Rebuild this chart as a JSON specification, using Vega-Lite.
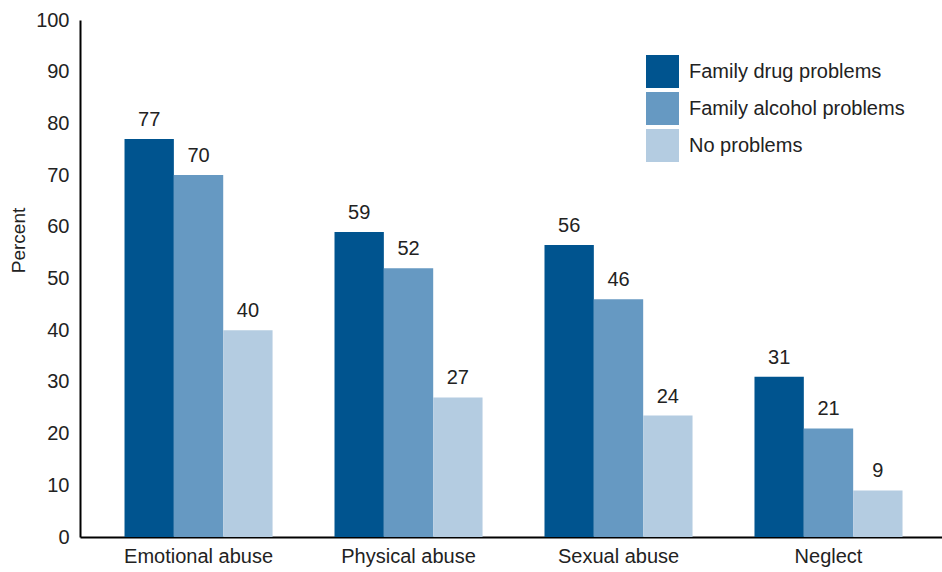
{
  "$schema": "https://vega.github.io/schema/vega-lite/v6.json",
  "width": 862,
  "height": 517,
  "autosize": {"type": "none"},
  "padding": {"left": 80, "top": 20, "right": 0, "bottom": 35},
  "config": {
    "view": {"stroke": null},
    "font": "Liberation Sans"
  },
  "data": {
    "values": [
      {"type": "Emotional abuse", "group": "Family drug problems", "value": 77, "label": "77"},
      {"type": "Emotional abuse", "group": "Family alcohol problems", "value": 70, "label": "70"},
      {"type": "Emotional abuse", "group": "No problems", "value": 40, "label": "40"},
      {"type": "Physical abuse", "group": "Family drug problems", "value": 59, "label": "59"},
      {"type": "Physical abuse", "group": "Family alcohol problems", "value": 52, "label": "52"},
      {"type": "Physical abuse", "group": "No problems", "value": 27, "label": "27"},
      {"type": "Sexual abuse", "group": "Family drug problems", "value": 56.5, "label": "56"},
      {"type": "Sexual abuse", "group": "Family alcohol problems", "value": 46, "label": "46"},
      {"type": "Sexual abuse", "group": "No problems", "value": 23.5, "label": "24"},
      {"type": "Neglect", "group": "Family drug problems", "value": 31, "label": "31"},
      {"type": "Neglect", "group": "Family alcohol problems", "value": 21, "label": "21"},
      {"type": "Neglect", "group": "No problems", "value": 9, "label": "9"}
    ]
  },
  "encoding": {
    "x": {
      "field": "type", "type": "nominal",
      "sort": ["Emotional abuse", "Physical abuse", "Sexual abuse", "Neglect"],
      "scale": {"paddingInner": 0.295, "paddingOuter": 0.2, "align": 0.53},
      "axis": {
        "title": null, "labelAngle": 0, "ticks": false,
        "domainColor": "#000000", "domainWidth": 2,
        "labelFontSize": 20, "labelColor": "#222222", "labelPadding": 9,
        "labelFont": "Liberation Sans"
      }
    },
    "xOffset": {
      "field": "group", "type": "nominal",
      "sort": ["Family drug problems", "Family alcohol problems", "No problems"]
    },
    "y": {
      "field": "value", "type": "quantitative",
      "scale": {"domain": [0, 100]},
      "axis": {
        "title": "Percent", "titleFontSize": 19, "titleFontWeight": "normal",
        "titleColor": "#222222", "titleFont": "Liberation Sans",
        "titleY": 220, "titleX": -56, "titleAngle": -90, "titleAlign": "center", "titleBaseline": "alphabetic",
        "values": [0, 10, 20, 30, 40, 50, 60, 70, 80, 90, 100],
        "ticks": false, "grid": false,
        "domainColor": "#000000", "domainWidth": 2,
        "labelFontSize": 20, "labelColor": "#222222", "labelPadding": 11,
        "labelFont": "Liberation Sans"
      }
    }
  },
  "layer": [
    {
      "mark": {"type": "bar"},
      "encoding": {
        "color": {
          "field": "group", "type": "nominal",
          "sort": ["Family drug problems", "Family alcohol problems", "No problems"],
          "scale": {
            "domain": ["Family drug problems", "Family alcohol problems", "No problems"],
            "range": ["#00548f", "#6699c2", "#b4cce1"]
          },
          "legend": {
            "title": null, "orient": "none", "legendX": 566, "legendY": 35,
            "symbolType": "square", "symbolSize": 1089, "symbolStrokeWidth": 0,
            "symbolOpacity": 1, "labelLimit": 400,
            "labelFontSize": 20, "labelColor": "#222222", "labelFont": "Liberation Sans",
            "labelOffset": 10, "rowPadding": 4, "padding": 0
          }
        }
      }
    },
    {
      "mark": {"type": "text", "baseline": "bottom", "dy": -9, "fontSize": 20, "color": "#222222", "font": "Liberation Sans"},
      "encoding": {
        "text": {"field": "label", "type": "nominal"}
      }
    }
  ]
}
